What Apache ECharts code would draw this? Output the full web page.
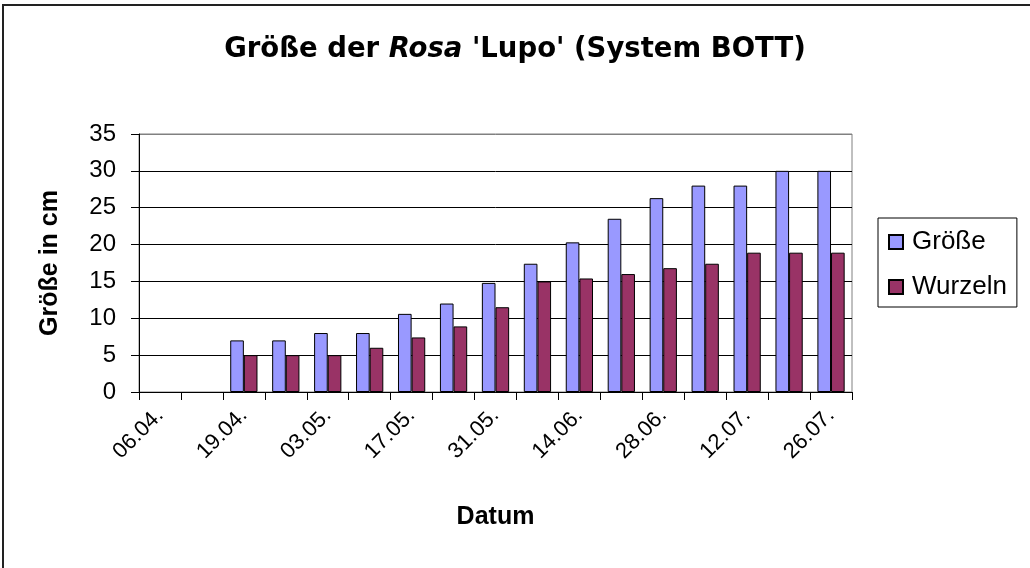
<!DOCTYPE html>
<html>
<head>
<meta charset="utf-8">
<script src="https://cdn.jsdelivr.net/npm/echarts@6/dist/echarts.min.js"></script>
<style>
html,body{margin:0;padding:0;background:#fff;}
#c{width:1030px;height:568px;}
</style>
</head>
<body>
<div id="c"></div>
<script>
const categories = ['06.04.', '12.04.', '19.04.', '26.04.', '03.05.', '10.05.', '17.05.', '24.05.', '31.05.', '07.06.', '14.06.', '21.06.', '28.06.', '05.07.', '12.07.', '19.07.', '26.07.'];
const groesse = [null, null, 7, 7, 8, 8, 10.6, 12, 14.8, 17.4, 20.3, 23.5, 26.3, 28, 28, 30, 30];
const wurzeln = [null, null, 5, 5, 5, 6, 7.4, 8.9, 11.5, 15, 15.4, 16, 16.8, 17.4, 18.9, 18.9, 18.9];
const yTicks = { min: 0, max: 35, interval: 5 };

const FONT = "'Liberation Sans', Arial, sans-serif";
const WIDE = "'DejaVu Sans', Verdana, sans-serif";
const chart = echarts.init(document.getElementById('c'));
chart.setOption({
  backgroundColor: '#ffffff',
  animation: false,
  title: {
    text: '{b|Größe der }{i|Rosa}{b| \'Lupo\' (System BOTT)}',
    left: 'center',
    top: 31,
    textStyle: {
      rich: {
        b: { fontFamily: WIDE, fontSize: 27.5, fontWeight: 'bold', color: '#000' },
        i: { fontFamily: WIDE, fontSize: 27.5, fontWeight: 'bold', fontStyle: 'italic', color: '#000' }
      }
    }
  },
  graphic: [{
    type: 'rect',
    shape: { x: 3, y: 5, width: 1100, height: 700 },
    style: { fill: 'none', stroke: '#222', lineWidth: 2 },
    silent: true
  }],
  legend: {
    orient: 'vertical',
    left: 878,
    top: 218,
    padding: [11, 10, 7, 10],
    itemWidth: 14,
    itemHeight: 14,
    itemGap: 19,
    borderColor: '#000',
    borderWidth: 1,
    icon: 'rect',
    textStyle: { fontFamily: FONT, fontSize: 26, color: '#000', padding: [0, 0, 0, 4] },
    data: ['Größe', 'Wurzeln']
  },
  grid: {
    left: 139, right: 178, top: 134, bottom: 176,
    show: true, borderColor: '#808080', borderWidth: 1, backgroundColor: '#fff'
  },
  xAxis: {
    type: 'category',
    data: categories,
    name: 'Datum',
    nameLocation: 'middle',
    nameGap: 113,
    nameTextStyle: { fontFamily: FONT, fontSize: 25, fontWeight: 'bold', color: '#000' },
    axisLine: { lineStyle: { color: '#000', width: 1 } },
    axisTick: { show: true, interval: 0, length: 8, lineStyle: { color: '#000' } },
    axisLabel: { interval: 1, rotate: 45, margin: 20, fontFamily: FONT, fontSize: 22, color: '#000' },
    splitLine: { show: false }
  },
  yAxis: {
    type: 'value',
    min: yTicks.min, max: yTicks.max, interval: yTicks.interval,
    name: 'Größe in cm',
    nameLocation: 'middle',
    nameRotate: 90,
    nameGap: 76,
    nameTextStyle: { fontFamily: FONT, fontSize: 25, fontWeight: 'bold', color: '#000' },
    axisLine: { show: true, lineStyle: { color: '#000', width: 1 } },
    axisTick: { show: true, length: 8, lineStyle: { color: '#000' } },
    axisLabel: { margin: 23, fontFamily: FONT, fontSize: 24, color: '#000' },
    splitLine: { show: true, lineStyle: { color: ['#000', '#000', '#000', '#000', '#000', '#000', '#000', '#808080'], width: 1 } }
  },
  series: [
    {
      name: 'Größe', type: 'bar', data: groesse,
      barGap: '0%', barCategoryGap: '35%',
      itemStyle: { color: '#9999FF', borderColor: '#000', borderWidth: 1 }
    },
    {
      name: 'Wurzeln', type: 'bar', data: wurzeln,
      barGap: '0%', barCategoryGap: '35%',
      itemStyle: { color: '#993366', borderColor: '#000', borderWidth: 1 }
    }
  ]
});
</script>
</body>
</html>
